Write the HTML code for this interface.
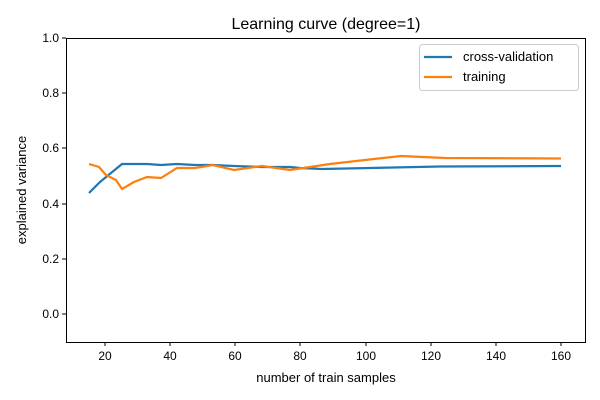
<!DOCTYPE html>
<html><head><style>body{margin:0;background:#fff}svg{display:block}text{font-family:"Liberation Sans",sans-serif;font-size:12px;fill:#000}</style></head>
<body><svg width="600" height="400" xmlns="http://www.w3.org/2000/svg">
<rect x="66.5" y="38.5" width="519" height="304" fill="none" stroke="#000" stroke-width="1"/>
<g stroke="#000" stroke-width="1">
<line x1="105" y1="342" x2="105" y2="346"/><line x1="170" y1="342" x2="170" y2="346"/><line x1="235" y1="342" x2="235" y2="346"/><line x1="300" y1="342" x2="300" y2="346"/><line x1="366" y1="342" x2="366" y2="346"/><line x1="431" y1="342" x2="431" y2="346"/><line x1="496" y1="342" x2="496" y2="346"/><line x1="561" y1="342" x2="561" y2="346"/>
<line x1="62" y1="314" x2="66" y2="314"/><line x1="62" y1="259" x2="66" y2="259"/><line x1="62" y1="204" x2="66" y2="204"/><line x1="62" y1="148" x2="66" y2="148"/><line x1="62" y1="93" x2="66" y2="93"/><line x1="62" y1="38" x2="66" y2="38"/>
</g>
<g text-anchor="middle">
<text x="105" y="360">20</text><text x="170" y="360">40</text><text x="235" y="360">60</text><text x="300" y="360">80</text><text x="366" y="360">100</text><text x="431" y="360">120</text><text x="496" y="360">140</text><text x="561" y="360">160</text>
<text x="326" y="382" style="font-size:13px">number of train samples</text>
<text x="326" y="29" style="font-size:16px">Learning curve (degree=1)</text>
</g>
<g text-anchor="end">
<text x="59" y="318">0.0</text><text x="59" y="263">0.2</text><text x="59" y="208">0.4</text><text x="59" y="152">0.6</text><text x="59" y="97">0.8</text><text x="59" y="42">1.0</text>
</g>
<text transform="translate(26,190) rotate(-90)" text-anchor="middle" style="font-size:13px">explained variance</text>
<polyline fill="none" stroke="#1f77b4" stroke-width="2.2" points="89,193 100,182 111,173 122,164 134,164 147,164 161,165 177,164 195,165 213,165 234,166 262,167 290,167 300,168 322,169 440,166.5 561,166"/>
<polyline fill="none" stroke="#ff7f0e" stroke-width="2.2" points="89,164 99,167 106,175 116,180 122,189 134,182 147,177 161,178 177,168 195,168 213,165 234,170 262,166 290,170 310,167 330,164 365,160 401,156 445,158 561,158.5"/>
<rect x="419.5" y="44.5" width="159" height="46" rx="3" fill="#fff" stroke="#ccc"/>
<line x1="424" y1="57" x2="452" y2="57" stroke="#1f77b4" stroke-width="2.2"/>
<line x1="424" y1="77" x2="452" y2="77" stroke="#ff7f0e" stroke-width="2.2"/>
<text x="463" y="61" style="font-size:13px">cross-validation</text>
<text x="463" y="81" style="font-size:13px">training</text>
</svg></body></html>
